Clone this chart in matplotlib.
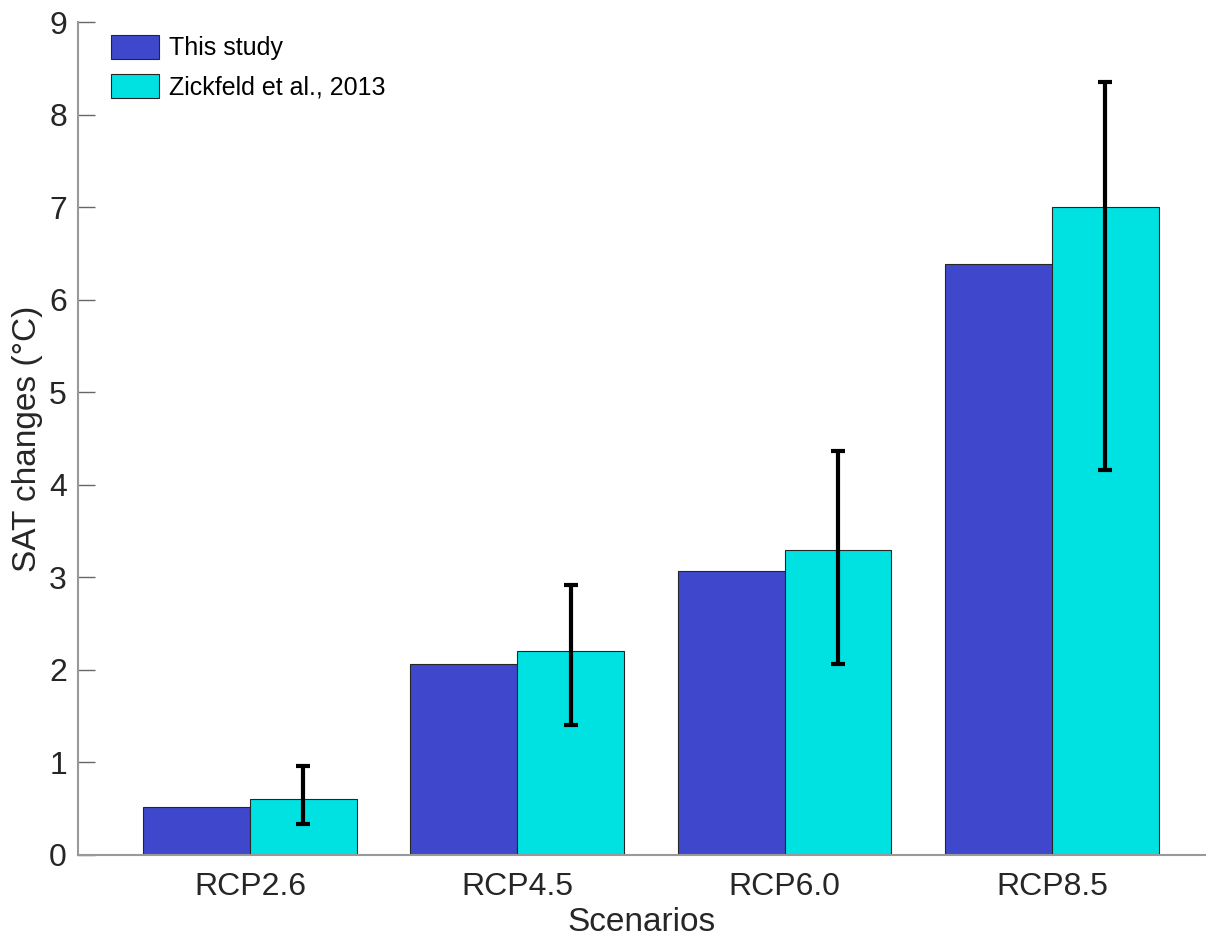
import matplotlib
matplotlib.use("Agg")
import matplotlib.pyplot as plt
import numpy as np

plt.rcParams['font.family'] = ['Liberation Sans', 'DejaVu Sans']

escenarios = ["RCP2.6", "RCP4.5", "RCP6.0", "RCP8.5"]
este_estudio = [0.52, 2.06, 3.07, 6.39]
zickfeld = [0.60, 2.20, 3.30, 7.00]
zick_bajo = [0.33, 1.40, 2.06, 4.16]
zick_alto = [0.96, 2.92, 4.37, 8.35]

fig = plt.figure(figsize=(12.06, 9.41), dpi=100)
ax = fig.add_axes([78/1206, 1 - 855/941, (1205-78)/1206, (855-22)/941])

x = np.arange(1, len(escenarios) + 1)
ancho = 0.4
ax.bar(x - ancho/2, este_estudio, ancho, color='#3F48CC', edgecolor='#262626',
       linewidth=0.8, label='This study', zorder=2)
ax.bar(x + ancho/2, zickfeld, ancho, color='#00E1E1', edgecolor='#262626',
       linewidth=0.8, label='Zickfeld et al., 2013', zorder=2)

err = [np.array(zickfeld) - np.array(zick_bajo), np.array(zick_alto) - np.array(zickfeld)]
ax.errorbar(x + ancho/2, zickfeld, yerr=err, fmt='none', ecolor='black',
            elinewidth=3, capsize=5, capthick=3, zorder=3)

ax.set_xlim(0.357, 4.573)
ax.set_ylim(0, 9)
ax.set_yticks(range(0, 10))
ax.set_xticks(x)
ax.set_xticklabels(escenarios)

for lado in ['top', 'right']:
    ax.spines[lado].set_visible(False)
for lado in ['left', 'bottom']:
    ax.spines[lado].set_color('#999999')
    ax.spines[lado].set_linewidth(1.5)

ax.tick_params(axis='y', direction='in', length=12, width=1, color='#666666',
               labelsize=23, labelcolor='#262626', pad=8)
ax.tick_params(axis='x', length=0, labelsize=23, labelcolor='#262626', pad=12)

ax.set_xlabel("Scenarios", fontsize=24, color='#262626', labelpad=4)
ax.set_ylabel("SAT changes (°C)", fontsize=24, color='#262626', labelpad=4)

ax.legend(loc='upper left', bbox_to_anchor=(0.009, 1.012), frameon=False, fontsize=18,
          handlelength=1.95, handleheight=1.1, handletextpad=0.4, labelspacing=0.55)

fig.savefig("out.png", dpi=100)
